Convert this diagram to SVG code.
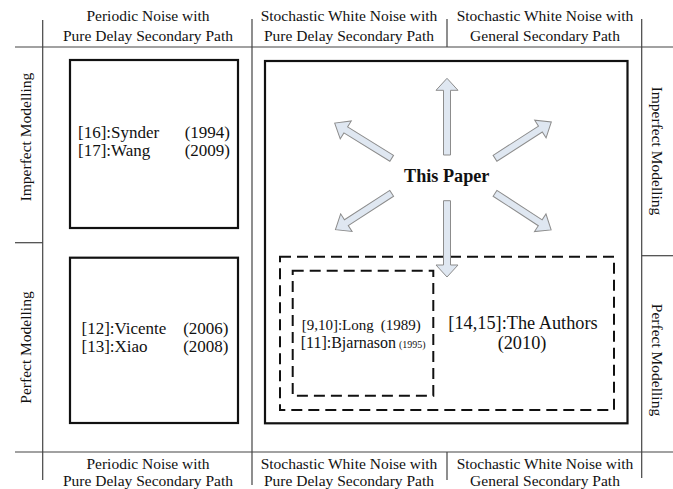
<svg xmlns="http://www.w3.org/2000/svg" width="673" height="489" viewBox="0 0 673 489">
<style>
.t{font-family:"Liberation Serif","Times New Roman",serif;fill:#111}
.h{font-size:15.5px;text-anchor:middle}
.b{font-size:17px}
.grid{stroke:#444;stroke-width:1.2;fill:none}
.box{fill:none;stroke:#111;stroke-width:2.2}
.dash{fill:none;stroke:#111;stroke-width:2;stroke-dasharray:11,6}
.arr{fill:#dfe7f1;stroke:#8c8c8c;stroke-width:1}
</style>
<rect width="673" height="489" fill="#fff"/>
<g id="grid">
<line class="grid" x1="15" y1="47" x2="673" y2="47"/>
<line class="grid" x1="15" y1="452" x2="673" y2="452"/>
<line class="grid" x1="42.7" y1="20" x2="42.7" y2="480"/>
<line class="grid" x1="252" y1="19" x2="252" y2="485"/>
<line class="grid" x1="447" y1="19" x2="447" y2="47"/>
<line class="grid" x1="447" y1="452" x2="447" y2="480"/>
<line class="grid" x1="641.7" y1="19" x2="641.7" y2="478"/>
<line class="grid" x1="15" y1="242.7" x2="42.7" y2="242.7"/>
<line class="grid" x1="641.7" y1="255.7" x2="673" y2="255.7"/>
</g>
<g id="headers">
<text class="t h" x="148" y="21">Periodic Noise with</text>
<text class="t h" x="148" y="40.5">Pure Delay Secondary Path</text>
<text class="t h" x="349" y="21">Stochastic White Noise with</text>
<text class="t h" x="349" y="40.5">Pure Delay Secondary Path</text>
<text class="t h" x="545" y="21">Stochastic White Noise with</text>
<text class="t h" x="545" y="40.5">General Secondary Path</text>
<text class="t h" x="148" y="468.5">Periodic Noise with</text>
<text class="t h" x="148" y="485.5">Pure Delay Secondary Path</text>
<text class="t h" x="349" y="468.5">Stochastic White Noise with</text>
<text class="t h" x="349" y="485.5">Pure Delay Secondary Path</text>
<text class="t h" x="545" y="468.5">Stochastic White Noise with</text>
<text class="t h" x="545" y="485.5">General Secondary Path</text>
<text class="t h" transform="translate(31,137) rotate(-90)">Imperfect Modelling</text>
<text class="t h" transform="translate(31,347.5) rotate(-90)">Perfect Modelling</text>
<text class="t h" transform="translate(651.5,151) rotate(90)">Imperfect Modelling</text>
<text class="t h" transform="translate(651.5,360) rotate(90)">Perfect Modelling</text>
</g>
<g id="box-imperfect-periodic">
<rect class="box" x="70" y="60" width="168" height="168"/>
<text class="t b" x="78" y="138">[16]:Synder</text>
<text class="t b" x="230" y="138" text-anchor="end">(1994)</text>
<text class="t b" x="78" y="156">[17]:Wang</text>
<text class="t b" x="230" y="156" text-anchor="end">(2009)</text>
</g>
<g id="box-perfect-periodic">
<rect class="box" x="70" y="257.7" width="168" height="165.3"/>
<text class="t b" x="81.5" y="334">[12]:Vicente</text>
<text class="t b" x="228.5" y="334" text-anchor="end">(2006)</text>
<text class="t b" x="81.5" y="352">[13]:Xiao</text>
<text class="t b" x="228.5" y="352" text-anchor="end">(2008)</text>
</g>
<g id="box-this-paper">
<rect class="box" x="265" y="61" width="362.5" height="362.3"/>
<text class="t" x="446.7" y="181.7" font-size="18.2" font-weight="bold" text-anchor="middle">This Paper</text>
</g>
<g id="box-authors">
<rect class="dash" x="280" y="256.7" width="334" height="153.3"/>
<text class="t" x="523" y="329.3" font-size="18.3" text-anchor="middle">[14,15]:The Authors</text>
<text class="t" x="522" y="349" font-size="18.3" text-anchor="middle">(2010)</text>
</g>
<g id="box-long">
<rect class="dash" x="292.7" y="270.7" width="140.6" height="125"/>
<text class="t" x="301.7" y="330" font-size="15">[9,10]:Long</text>
<text class="t" x="420.7" y="330" font-size="15" text-anchor="end">(1989)</text>
<text class="t" x="300.7" y="347.5" font-size="16">[11]:Bjarnason</text>
<text class="t" x="425.7" y="347.5" font-size="10" text-anchor="end">(1995)</text>
</g>
<g id="connectors">
<path class="arr" transform="translate(447,155) rotate(-90)" d="M0,-3.5 H64.7 V-11 L76.7,0 L64.7,11 V3.5 H0 Z"/>
<path class="arr" transform="translate(447,200.7) rotate(90)" d="M0,-3.5 H64.3 V-11 L76.3,0 L64.3,11 V3.5 H0 Z"/>
<path class="arr" transform="translate(391.7,158.3) rotate(-148.3)" d="M0,-3.5 H54 V-10.5 L67,0 L54,10.5 V3.5 H0 Z"/>
<path class="arr" transform="translate(495,158.3) rotate(-32.8)" d="M0,-3.5 H54 V-10.5 L67,0 L54,10.5 V3.5 H0 Z"/>
<path class="arr" transform="translate(391.7,193.3) rotate(147.1)" d="M0,-3.5 H54 V-10.5 L67,0 L54,10.5 V3.5 H0 Z"/>
<path class="arr" transform="translate(495,193.3) rotate(33.1)" d="M0,-3.5 H54 V-10.5 L67,0 L54,10.5 V3.5 H0 Z"/>
</g>
</svg>
